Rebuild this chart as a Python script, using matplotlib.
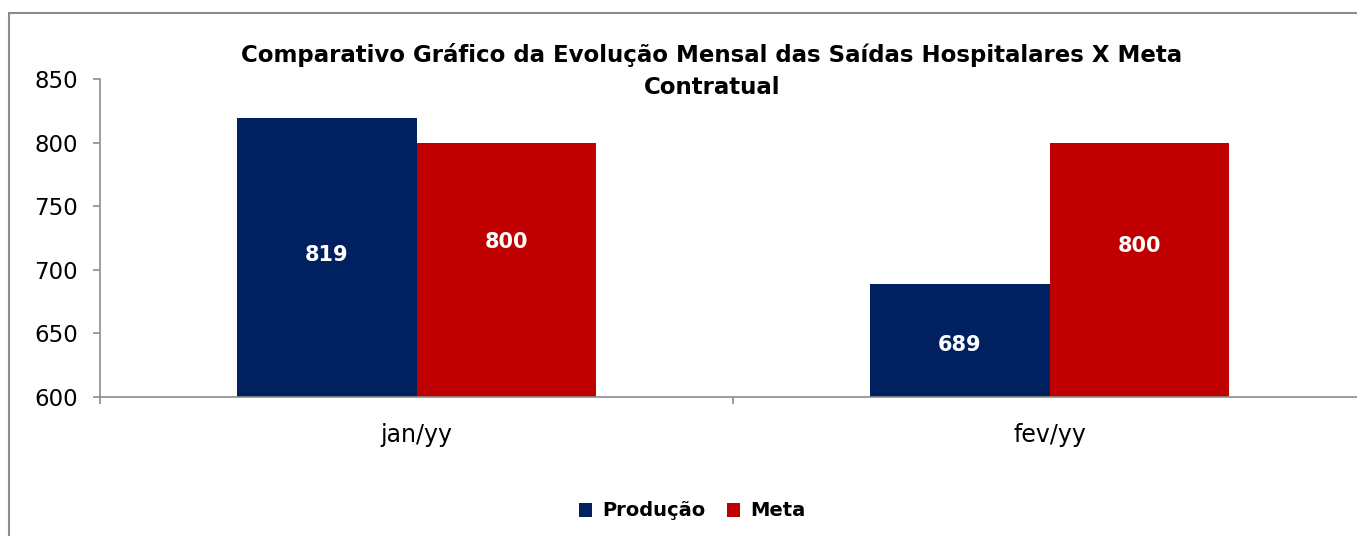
import matplotlib
matplotlib.use('Agg')
import matplotlib.pyplot as plt
from matplotlib.patches import Rectangle
import numpy as np

# dados
meses = ['jan/yy', 'fev/yy']
producao = [819, 689]
meta = [800, 800]

# deslocamento vertical dos rótulos em relação ao centro da barra (px)
desloc_prod = [3, -5]
desloc_meta = [28, 24]

plt.rcParams['font.family'] = ['DejaVu Sans']

fig = plt.figure(figsize=(13.57, 5.36), dpi=100)

# moldura cinza do gráfico (cortada à direita e embaixo)
fig.patches.append(Rectangle((9 / 1357, -0.1), 1.2, (536 - 13) / 536 + 0.1,
                             transform=fig.transFigure, fill=False,
                             edgecolor='#8c8c8c', linewidth=1.5))

ax = fig.add_axes([100 / 1357, 139 / 536, 1266 / 1357, 318 / 536])

x = np.arange(len(meses))
w = 0.284
b1 = ax.bar(x - w / 2, np.array(producao) - 600, w, bottom=600, color='#002060', label='Produção')
b2 = ax.bar(x + w / 2, np.array(meta) - 600, w, bottom=600, color='#C00000', label='Meta')

for bars, vals, desl in ((b1, producao, desloc_prod), (b2, meta, desloc_meta)):
    for r, v, d in zip(bars, vals, desl):
        ax.annotate(str(v), (r.get_x() + r.get_width() / 2, 600 + (v - 600) / 2),
                    xytext=(0, d * 0.72), textcoords='offset points',
                    ha='center', va='center', color='white', fontsize=15, fontweight='bold')

ax.set_ylim(600, 850)
ax.set_yticks(range(600, 851, 50))
ax.set_xlim(-0.5, 1.5)
ax.set_xticks(x)
ax.set_xticklabels(meses)
ax.set_xticks([-0.5, 0.5, 1.5], minor=True)
ax.tick_params(axis='x', which='major', length=0, pad=19, labelsize=17)
ax.tick_params(axis='x', which='minor', length=5, width=1.2, color='#8c8c8c', direction='out')
ax.tick_params(axis='y', length=5, width=1.2, color='#8c8c8c', labelsize=16.5, pad=11, direction='out')
for s in ['top', 'right']:
    ax.spines[s].set_visible(False)
for s in ['left', 'bottom']:
    ax.spines[s].set_color('#8c8c8c')
    ax.spines[s].set_linewidth(1.2)

fig.text(712 / 1357, 1 - 71 / 536, 'Comparativo Gráfico da Evolução Mensal das Saídas Hospitalares X Meta\nContratual',
         ha='center', va='center', fontsize=16.5, fontweight='bold', linespacing=1.45)

fig.legend(handles=[b1, b2], loc='center', bbox_to_anchor=(692 / 1357, 1 - 511 / 536),
           ncol=2, frameon=False, handlelength=0.7, handleheight=0.7, handletextpad=0.5,
           columnspacing=1.1, prop={'weight': 'bold', 'size': 14})

fig.savefig('out.png', dpi=100)
